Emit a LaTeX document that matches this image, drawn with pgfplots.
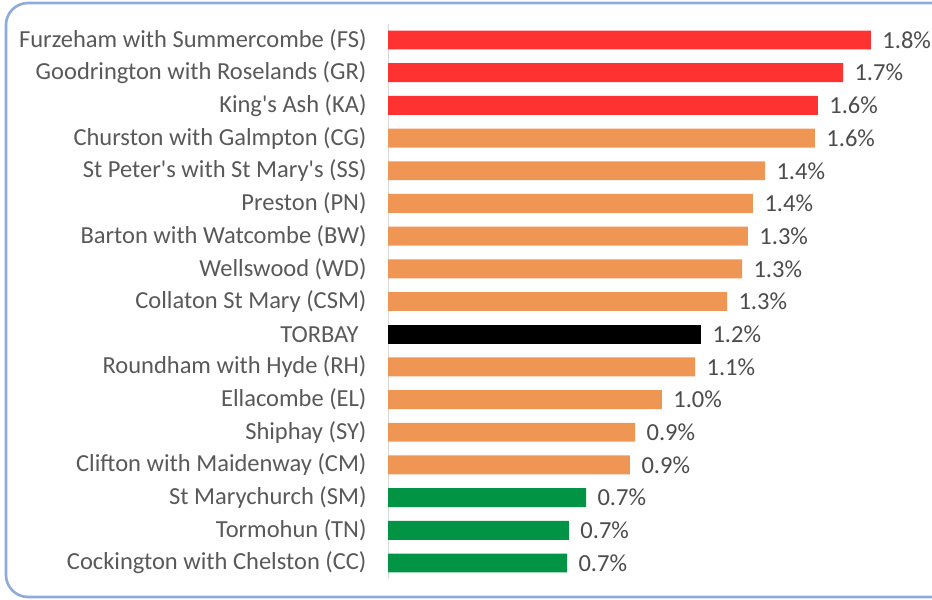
\documentclass[border=0pt]{standalone}
\usepackage{fontspec}
\setmainfont{Carlito}[Ligatures=TeXOff]
\usepackage{pgfplots}
\pgfplotsset{compat=1.18}
\definecolor{hired}{RGB}{255,50,50}
\definecolor{midor}{RGB}{240,150,85}
\definecolor{logrn}{RGB}{0,148,68}
\definecolor{txt}{RGB}{89,89,89}
\definecolor{frame}{RGB}{143,170,220}

% y index: 0 = top row
\pgfplotstableread{
x y lab
1.802 0 1.8\%
1.698 1 1.7\%
1.604 2 1.6\%
}\redtab
\pgfplotstableread{
x y lab
1.593 3 1.6\%
1.407 4 1.4\%
1.362 5 1.4\%
1.343 6 1.3\%
1.321 7 1.3\%
1.265 8 1.3\%
1.146 10 1.1\%
1.022 11 1.0\%
0.922 12 0.9\%
0.903 13 0.9\%
}\oratab
\pgfplotstableread{
x y lab
1.168 9 1.2\%
}\blktab
\pgfplotstableread{
x y lab
0.739 14 0.7\%
0.675 15 0.7\%
0.668 16 0.7\%
}\grntab

\begin{document}
\begin{tikzpicture}
\useasboundingbox (0,0) rectangle (932bp,600bp);
\clip (0,0) rectangle (932bp,600bp);
\fill[white] (0,0) rectangle (932bp,600bp);
\draw[frame,line width=2.6bp,rounded corners=22bp] (6bp,3bp) rectangle (990bp,597bp);
\begin{axis}[at={(388bp,20.65bp)},anchor=south west,
  scale only axis,width=544bp,height=555.7bp,
  xmin=0,xmax=2.03,ymin=-0.5,ymax=16.5,y dir=reverse,
  axis x line=none,
  axis y line*=left,
  y axis line style={draw=gray!30,line width=0.8bp},
  ytick={0,...,16},
  yticklabels={Furzeham with Summercombe (FS),Goodrington with Roselands (GR),
    King's Ash (KA),Churston with Galmpton (CG),St Peter's with St Mary's (SS),
    Preston (PN),Barton with Watcombe (BW),Wellswood (WD),Collaton St Mary (CSM),
    {TORBAY\rule{8bp}{0pt}},Roundham with Hyde (RH),Ellacombe (EL),Shiphay (SY),
    Clifton with Maidenway (CM),St Marychurch (SM),Tormohun (TN),
    Cockington with Chelston (CC)},
  major tick length=0pt,
  yticklabel style={font=\fontsize{24.5bp}{28bp}\selectfont,text=txt,xshift=-18bp},
  every node near coord/.append style={font=\fontsize{24.5bp}{28bp}\selectfont,
    text=txt!85!black,anchor=west,xshift=8bp},
  nodes near coords,point meta=explicit symbolic,
  clip=false]
\addplot[xbar,bar shift=0pt,bar width=0.58,draw=none,fill=hired]
  table[x=x,y=y,meta=lab]{\redtab};
\addplot[xbar,bar shift=0pt,bar width=0.58,draw=none,fill=midor]
  table[x=x,y=y,meta=lab]{\oratab};
\addplot[xbar,bar shift=0pt,bar width=0.58,draw=none,fill=black]
  table[x=x,y=y,meta=lab]{\blktab};
\addplot[xbar,bar shift=0pt,bar width=0.58,draw=none,fill=logrn]
  table[x=x,y=y,meta=lab]{\grntab};
\end{axis}
\end{tikzpicture}
\end{document}
